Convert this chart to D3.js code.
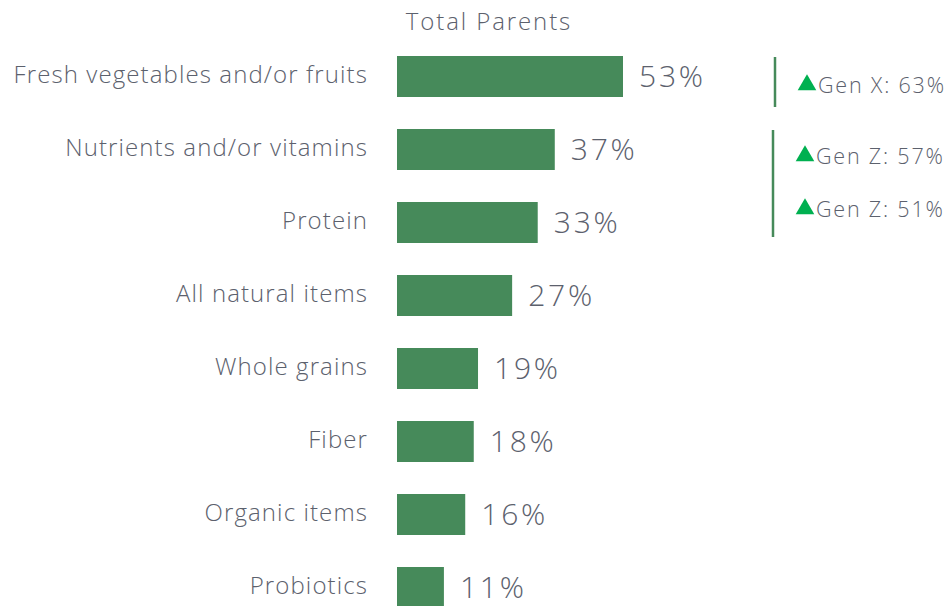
<!DOCTYPE html>
<html lang="en">
<head>
<meta charset="UTF-8">
<title>Total Parents</title>
<script src="https://d3js.org/d3.v7.min.js"></script>
<style>
    html, body { margin: 0; background: #fff; }
    svg { display: block; font-family: 'Open Sans', 'Lato', sans-serif; font-weight: 300; }
    .cat { font-size: 24px; fill: #5c616d; letter-spacing: 1.1px; }
    .val { font-size: 30px; fill: #5c616d; letter-spacing: 2.8px; }
    .title { font-size: 24px; fill: #5c616d; letter-spacing: 1.9px; }
    .note { font-size: 21.5px; fill: #5c616d; letter-spacing: 1.8px; }
</style>
</head>
<body>
<svg width="949" height="606"></svg>
<script>
    // Data
    const categories = ["Fresh vegetables and/or fruits", "Nutrients and/or vitamins", "Protein",
        "All natural items", "Whole grains", "Fiber", "Organic items", "Probiotics"];
    const values = [53, 37, 33, 27, 19, 18, 16, 11];
    const notes = [
        { group: 0, rows: [0], labels: ["Gen X: 63%"] },
        { group: 1, rows: [1, 2], labels: ["Gen Z: 57%", "Gen Z: 51%"] }
    ];

    const svg = d3.select("svg");
    const barColor = "#468a5a";

    const x = d3.scaleLinear().domain([0, 53]).range([397, 623]);
    const y = d3.scaleBand().domain(categories).range([56 - 16, 56 - 16 + 73 * 8]).paddingInner(32 / 73).paddingOuter(16 / 73);

    svg.append("text")
        .attr("class", "title")
        .attr("x", 489).attr("y", 30)
        .attr("text-anchor", "middle")
        .text("Total Parents");

    const row = svg.append("g").selectAll("g")
        .data(categories)
        .enter().append("g");

    row.append("rect")
        .attr("x", x(0))
        .attr("y", d => y(d))
        .attr("width", (d, i) => x(values[i]) - x(0))
        .attr("height", y.bandwidth())
        .attr("fill", barColor);

    row.append("text")
        .attr("class", "cat")
        .attr("x", 368)
        .attr("y", d => y(d) + y.bandwidth() / 2 - 3)
        .attr("text-anchor", "end")
        .attr("dominant-baseline", "central")
        .text(d => d);

    row.append("text")
        .attr("class", "val")
        .attr("x", (d, i) => x(values[i]) + 16)
        .attr("y", d => y(d) + y.bandwidth() / 2 - 1)
        .attr("dominant-baseline", "central")
        .text((d, i) => values[i] + "%");

    // side notes with brackets
    const lineX = [775, 773];
    notes.forEach((n, k) => {
        const first = categories[n.rows[0]];
        const last = categories[n.rows[n.rows.length - 1]];
        svg.append("line")
            .attr("x1", lineX[k]).attr("x2", lineX[k])
            .attr("y1", y(first) + 1)
            .attr("y2", k === 0 ? y(first) + 51 : y(last) + y.bandwidth() - 6)
            .attr("stroke", barColor)
            .attr("stroke-width", 2.5);

        const noteY = k === 0 ? [84] : [155, 208];
        n.labels.forEach((lab, j) => {
            const tx = k === 0 ? 798 : 796;
            const ty = noteY[j];
            svg.append("path")
                .attr("d", d3.symbol().type(d3.symbolTriangle).size(150)())
                .attr("transform", `translate(${tx + 9},${ty + 1})`)
                .attr("fill", "#00b050");
            svg.append("text")
                .attr("class", "note")
                .attr("x", tx + 20)
                .attr("y", ty)
                .attr("dominant-baseline", "central")
                .text(lab);
        });
    });
</script>
</body>
</html>
